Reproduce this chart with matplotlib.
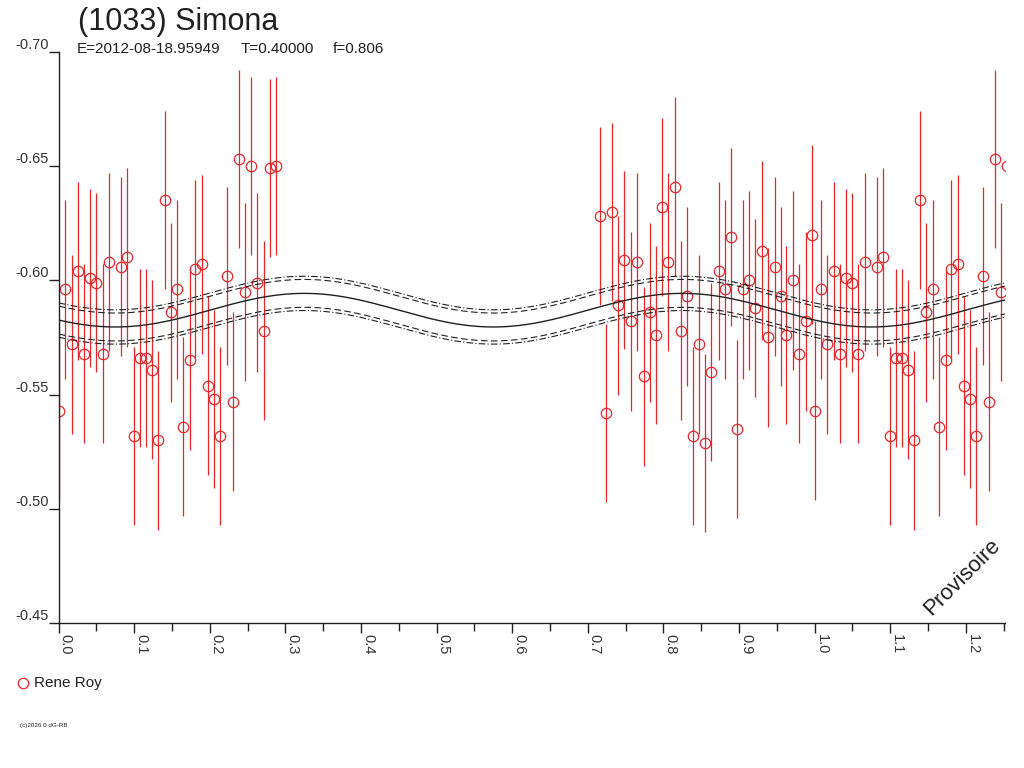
import matplotlib.pyplot as plt
import numpy as np

# observations (phase, reduced magnitude), one observer
phase = [0.001, 0.009, 0.017, 0.025, 0.033, 0.042, 0.050, 0.058, 0.066, 0.082,
         0.091, 0.100, 0.108, 0.116, 0.124, 0.132, 0.140, 0.148, 0.157, 0.165,
         0.174, 0.181, 0.190, 0.198, 0.205, 0.214, 0.223, 0.231, 0.239, 0.246,
         0.254, 0.262, 0.272, 0.280, 0.288,
         0.716, 0.724, 0.732, 0.740, 0.748, 0.757, 0.765, 0.774, 0.782, 0.790,
         0.798, 0.806, 0.815, 0.823, 0.831, 0.839, 0.847, 0.855, 0.863, 0.873,
         0.881, 0.889, 0.897, 0.905, 0.913, 0.921, 0.930, 0.938, 0.947, 0.955,
         0.962, 0.971, 0.979, 0.988, 0.996]
mag = [-0.543, -0.596, -0.572, -0.604, -0.568, -0.601, -0.599, -0.568, -0.608, -0.606,
       -0.610, -0.532, -0.566, -0.566, -0.561, -0.530, -0.635, -0.586, -0.596, -0.536,
       -0.565, -0.605, -0.607, -0.554, -0.548, -0.532, -0.602, -0.547, -0.653, -0.595,
       -0.650, -0.599, -0.578, -0.649, -0.650,
       -0.628, -0.542, -0.630, -0.589, -0.609, -0.582, -0.608, -0.558, -0.586, -0.576,
       -0.632, -0.608, -0.641, -0.578, -0.593, -0.532, -0.572, -0.529, -0.560, -0.604,
       -0.596, -0.619, -0.535, -0.596, -0.600, -0.588, -0.613, -0.575, -0.606, -0.593,
       -0.576, -0.600, -0.568, -0.582, -0.620]
mag_err = 0.039

# fourier fit (2nd harmonic only) and its bands
fit_mean = -0.58695
fit_amp = 0.00735
fit_phase_max = 0.325
band_inner = 0.0061
band_outer = 0.0075

title = "(1033) Simona"
epoch = "E=2012-08-18.95949"
period = "T=0.40000"
freq = "f=0.806"
observer = "Rene Roy"

RED = '#e8262a'
INK = '#202020'
plt.rcParams['font.family'] = ['Liberation Sans', 'DejaVu Sans']

fig = plt.figure(figsize=(10.24, 7.68), dpi=100)
ax = fig.add_axes([0.0573, 0.1884, 0.9241, 0.7443])

ph = np.array(phase)
mg = np.array(mag)
# phases beyond 1 are the same data shifted by one cycle
ph_all = np.concatenate([ph, ph + 1])
mg_all = np.concatenate([mg, mg])

ax.vlines(ph_all, mg_all - mag_err, mg_all + mag_err, color=RED, lw=0.9)
ax.plot(ph_all, mg_all, 'o', mfc='none', mec=RED, mew=0.9, ms=7.5)

x = np.linspace(0, 1.2518, 600)
fit = fit_mean - fit_amp * np.cos(4 * np.pi * (x - fit_phase_max))
ax.plot(x, fit, color=INK, lw=1.0)
for s in (-1, 1):
    ax.plot(x, fit + s * band_inner, color=INK, lw=0.8, ls=(0, (6, 3)))
    ax.plot(x, fit + s * band_outer, color=INK, lw=0.8, ls=(0, (6, 2, 1, 2)))

ax.set_xlim(0, 1.2518)
ax.set_ylim(-0.45, -0.70)
ax.set_xticks(np.arange(0, 1.21, 0.1))
ax.set_xticks(np.arange(0.05, 1.26, 0.1), minor=True)
ax.set_xticklabels([f"{v:.1f}" for v in np.arange(0, 1.21, 0.1)],
                   rotation=-90, ha='left', va='top')
ax.set_yticks(np.arange(-0.70, -0.449, 0.05))
ax.set_yticklabels([f"{v:.2f}" for v in np.arange(-0.70, -0.449, 0.05)], va='bottom')

for side in ('top', 'right'):
    ax.spines[side].set_visible(False)
for side in ('left', 'bottom'):
    ax.spines[side].set_color(INK)
    ax.spines[side].set_linewidth(1.0)
ax.tick_params(axis='both', which='both', direction='out', color=INK,
               labelsize=10.5, labelcolor='#333333', width=1.0)
ax.tick_params(axis='x', which='major', length=7, pad=1)
ax.tick_params(axis='x', which='minor', length=6)
ax.tick_params(axis='y', which='major', length=7, pad=0)

fig.text(78 / 1024, 1 - 30 / 768, title, fontsize=22, color=INK, va='baseline')
fig.text(77 / 1024, 1 - 53 / 768, epoch, fontsize=11, color=INK, va='baseline')
fig.text(241 / 1024, 1 - 53 / 768, period, fontsize=11, color=INK, va='baseline')
fig.text(333 / 1024, 1 - 53 / 768, freq, fontsize=11, color=INK, va='baseline')

ax.text(0.955, 0.08, "Provisoire", transform=ax.transAxes, rotation=45,
        fontsize=16, color=INK, ha='center', va='center')

# legend built by hand like the original
fig.lines.append(plt.Line2D([23 / 1024], [1 - 683 / 768], marker='o', ms=7.5, mfc='none',
                            mec=RED, mew=0.9, transform=fig.transFigure))
fig.text(34 / 1024, 1 - 683 / 768, observer, fontsize=11, color=INK, va='center')
fig.text(20 / 1024, 1 - 725 / 768, "(c)2026 0 dG-RB", fontsize=4.5, color=INK,
         va='center')

fig.savefig('out.png', dpi=100, facecolor='white')
